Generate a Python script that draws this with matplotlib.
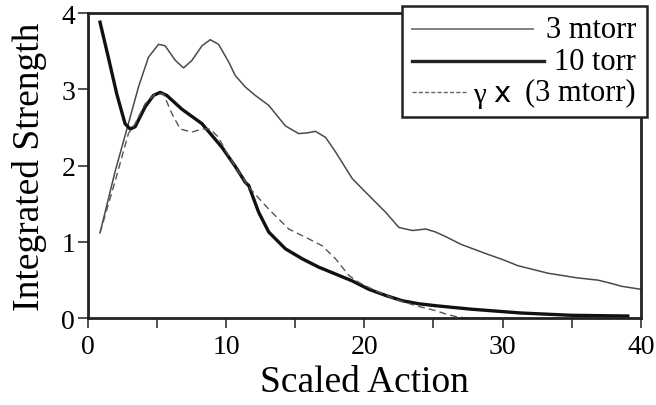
import numpy as np
import matplotlib
matplotlib.use('Agg')
import matplotlib.pyplot as plt
from matplotlib.lines import Line2D
from matplotlib.patches import Rectangle

plt.rcParams['font.family'] = ['Liberation Serif', 'DejaVu Serif']

# 3 mtorr (thin)
x_3m = [0.89, 1.99, 2.94, 3.67, 4.39, 5.12, 5.60, 6.33, 6.93, 7.54, 8.26, 8.86, 9.46,
        10.19, 10.67, 11.4, 12.12, 13.09, 14.30, 15.26, 15.9, 16.47, 17.2, 17.92, 19.13,
        20.33, 21.54, 22.5, 23.48, 24.44, 25.17, 26.0, 26.98, 28.9, 30.0, 31.1, 33.3,
        35.4, 36.9, 37.8, 38.6, 40.0]
y_3m = [1.12, 1.93, 2.55, 3.03, 3.42, 3.59, 3.57, 3.38, 3.28, 3.38, 3.57, 3.65, 3.59,
        3.36, 3.18, 3.03, 2.92, 2.79, 2.52, 2.42, 2.43, 2.45, 2.37, 2.18, 1.83,
        1.61, 1.39, 1.19, 1.15, 1.17, 1.13, 1.06, 0.97, 0.84, 0.77, 0.69, 0.59,
        0.53, 0.50, 0.46, 0.42, 0.38]

# 10 torr (thick)
x_10 = [0.89, 1.49, 2.10, 2.70, 3.07, 3.43, 4.15, 4.75, 5.24, 5.72, 6.81, 8.26, 9.71,
        10.67, 11.4, 11.64, 12.36, 13.09, 14.30, 15.51, 16.71, 17.92, 19.13, 20.33,
        21.54, 22.75, 23.96, 25.17, 27.7, 31.3, 34.9, 39.05]
y_10 = [3.88, 3.42, 2.94, 2.55, 2.48, 2.51, 2.77, 2.92, 2.96, 2.92, 2.74, 2.55, 2.24,
        1.99, 1.78, 1.74, 1.39, 1.13, 0.91, 0.78, 0.67, 0.58, 0.49, 0.38,
        0.30, 0.23, 0.19, 0.165, 0.12, 0.07, 0.04, 0.03]

# gamma x (3 mtorr) (dashed)
x_g = [0.89, 1.99, 2.94, 3.43, 4.15, 4.88, 5.48, 6.09, 6.69, 7.54, 8.26, 8.86, 9.46,
       9.95, 10.8, 11.64, 13.09, 14.54, 15.99, 16.96, 17.92, 18.89, 19.61, 20.82,
       22.27, 23.72, 25.17, 26.0, 26.7, 27.5, 32.0, 36.0, 40.0]
y_g = [1.12, 1.80, 2.42, 2.55, 2.81, 2.94, 2.94, 2.68, 2.48, 2.44, 2.48, 2.48, 2.37,
       2.20, 1.95, 1.72, 1.43, 1.17, 1.04, 0.95, 0.78, 0.56, 0.47, 0.36,
       0.25, 0.165, 0.10, 0.05, 0.02, 0.0, 0.0, 0.0, 0.0]

fig = plt.figure(figsize=(6.56, 4.06), dpi=100)
ax = fig.add_axes([0.1337, 0.2135, 0.977 - 0.1337, 0.9655 - 0.2135])

ax.plot(x_3m, y_3m, color='#4a4a4a', lw=1.1)
ax.plot(x_10, y_10, color='#111111', lw=2.4)
ax.plot(x_g, y_g, color='#555555', lw=1.0, dashes=(5, 3))

ax.set_xlim(0, 40)
ax.set_ylim(0, 4)
ax.set_xticks([0, 10, 20, 30, 40])
ax.set_xticks([5, 15, 25, 35], minor=True)
ax.set_yticks([0, 1, 2, 3, 4])
ax.tick_params(which='both', direction='out', length=7, width=1.2, labelsize=20,
               color='#333333', pad=4)
ax.tick_params(axis='y', pad=2)
for s in ax.spines.values():
    s.set_linewidth(2.0)
    s.set_color('#222222')

ax.set_xlabel('Scaled Action', fontsize=27, labelpad=4)
ax.set_ylabel('Integrated Strength', fontsize=27, labelpad=10)

# legend drawn in figure pixels, right-aligned text
W, H = 656.0, 406.0
def fx(px): return px / W
def fy(py): return 1 - py / H

box = Rectangle((fx(402), fy(118)), fx(647) - fx(402), fy(7) - fy(118),
                transform=fig.transFigure, facecolor='white', edgecolor='#222222',
                lw=1.8, zorder=5)
fig.add_artist(box)
fig.add_artist(Line2D([fx(412), fx(533)], [fy(30), fy(30)], transform=fig.transFigure,
                      color='#808080', lw=1.4, zorder=6))
fig.add_artist(Line2D([fx(412), fx(544)], [fy(62), fy(62)], transform=fig.transFigure,
                      color='#222222', lw=2.4, zorder=6))
fig.add_artist(Line2D([fx(412), fx(466)], [fy(93), fy(93)], transform=fig.transFigure,
                      color='#666666', lw=1.0, dashes=(3, 1.5), zorder=6))
fig.text(fx(636), fy(30), '3 mtorr', ha='right', va='center', fontsize=22, zorder=7)
fig.text(fx(636), fy(62), '10 torr', ha='right', va='center', fontsize=22, zorder=7)
fig.text(fx(636), fy(93), '(3 mtorr)', ha='right', va='center', fontsize=22, zorder=7)
fig.text(fx(510), fy(94), 'x', ha='right', va='center', fontsize=21,
         family='DejaVu Sans', zorder=7)
fig.text(fx(486), fy(96), 'γ', ha='right', va='center', fontsize=21, zorder=7)

fig.savefig('out.png', dpi=100)
